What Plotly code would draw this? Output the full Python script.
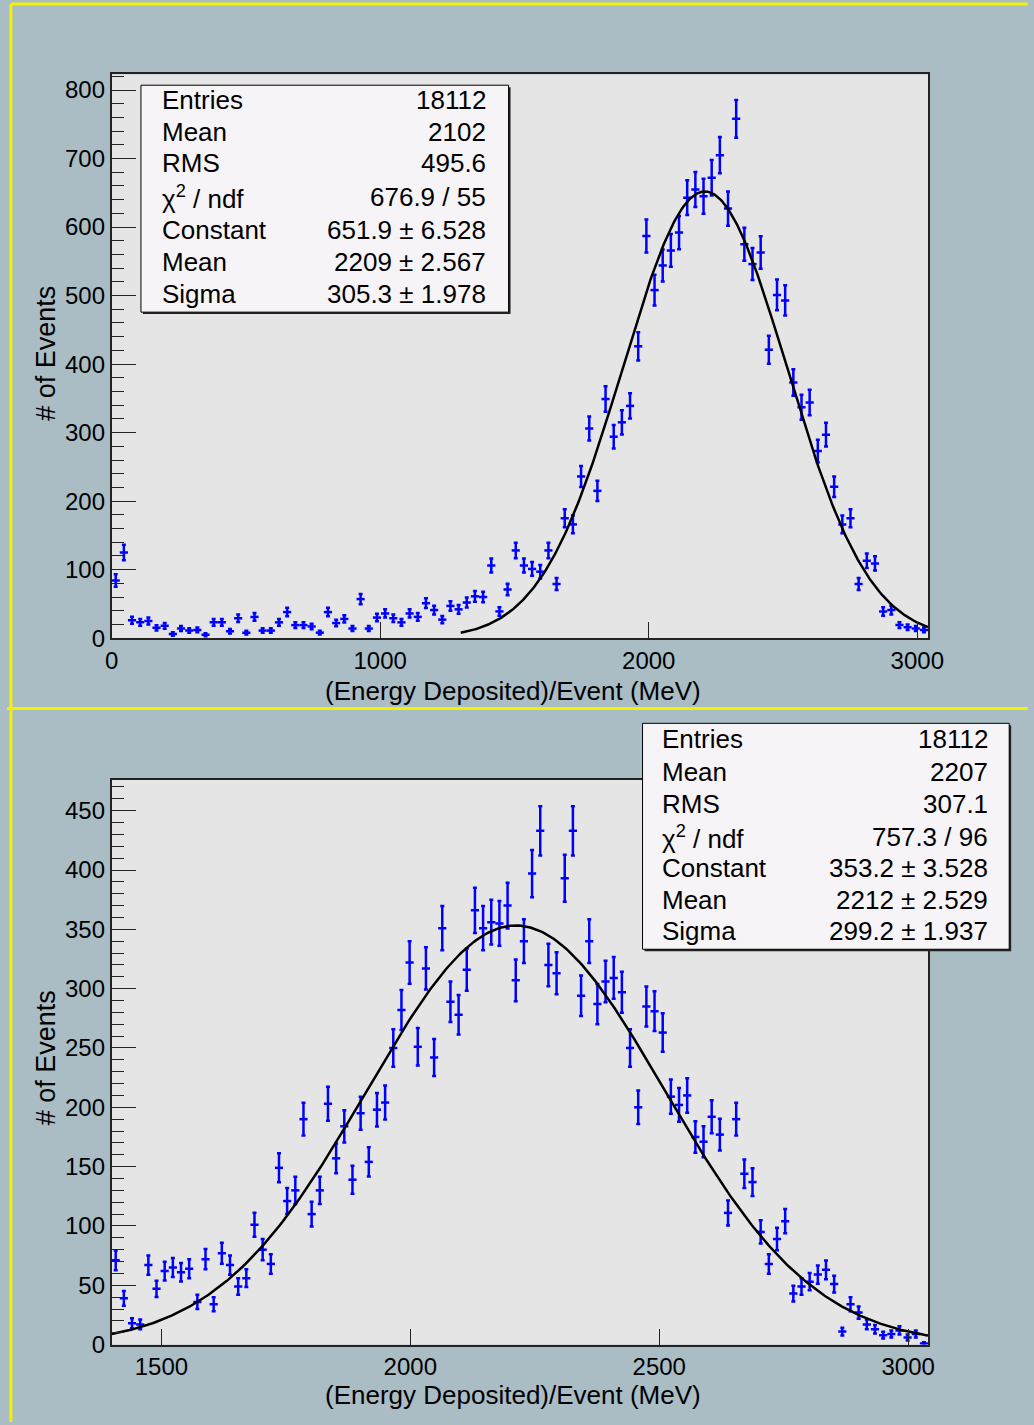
import numpy as np
import plotly.graph_objects as go

W, H = 1034, 1425
FONT = "Liberation Sans, Arial, Helvetica, sans-serif"

# ---- histogram contents (100 bins each) ----
top_range = (0.0, 3040.0)
top_counts = [84, 125, 26, 23, 25, 15, 18, 6, 14, 11,
              12, 5, 23, 23, 10, 29, 8, 31, 11, 11,
              23, 38, 19, 19, 17, 8, 38, 22, 28, 14,
              57, 14, 30, 36, 29, 23, 36, 31, 51, 41,
              27, 47, 42, 52, 61, 60, 106, 39, 71, 128,
              106, 101, 97, 128, 79, 175, 166, 236, 306, 215,
              349, 294, 315, 339, 426, 587, 508, 544, 566, 592,
              643, 655, 645, 672, 705, 627, 758, 575, 546, 563,
              421, 501, 493, 373, 337, 344, 273, 297, 221, 166,
              175, 79, 113, 109, 39, 41, 19, 16, 14, 12]

bot_range = (1400.0, 3040.0)
bot_counts = [71, 39, 18, 17, 67, 47, 62, 65, 61, 64,
              36, 72, 34, 77, 67, 49, 56, 101, 80, 68,
              149, 121, 130, 190, 110, 130, 203, 157, 184, 139,
              195, 154, 198, 204, 250, 282, 322, 251, 317, 242,
              351, 289, 278, 316, 366, 351, 356, 355, 370, 307,
              340, 397, 433, 320, 313, 393, 433, 294, 340, 287,
              306, 309, 297, 250, 200, 285, 281, 263, 209, 202,
              210, 175, 171, 192, 177, 111, 190, 144, 137, 95,
              68, 89, 104, 43, 49, 53, 59, 63, 51, 11,
              34, 27, 17, 13, 8, 9, 12, 6, 9, 1]

# ---- gaussian fit results ----
top_fit = dict(const=651.9, mean=2209.0, sigma=305.3, lo=1300.0, hi=3040.0)
bot_fit = dict(const=353.2, mean=2212.0, sigma=299.2, lo=1400.0, hi=3040.0)

# ---- statistics box text ----
top_stats = [("Entries", "18112"), ("Mean", "2102"), ("RMS", "495.6"),
             ("\u03c7<sup>2</sup> / ndf", "676.9 / 55"),
             ("Constant", "651.9 \u00b1 6.528"), ("Mean", "2209 \u00b1 2.567"),
             ("Sigma", "305.3 \u00b1 1.978")]
bot_stats = [("Entries", "18112"), ("Mean", "2207"), ("RMS", "307.1"),
             ("\u03c7<sup>2</sup> / ndf", "757.3 / 96"),
             ("Constant", "353.2 \u00b1 3.528"), ("Mean", "2212 \u00b1 2.529"),
             ("Sigma", "299.2 \u00b1 1.937")]

top_xticks = [0, 1000, 2000, 3000]
bot_xticks = [1500, 2000, 2500, 3000]

x_title = "(Energy Deposited)/Event (MeV)"
y_title = "# of Events"


def px(x):
    return x / W


def py(y):
    return 1 - y / H


def hist_trace(counts, rng, xa, ya):
    counts = np.asarray(counts, dtype=float)
    n = len(counts)
    width = (rng[1] - rng[0]) / n
    centers = rng[0] + (np.arange(n) + 0.5) * width
    return go.Scatter(
        x=centers, y=counts, mode="markers", xaxis=xa, yaxis=ya,
        marker=dict(size=2, color="#0000ff"),
        error_x=dict(type="constant", value=width / 2, thickness=2.5,
                     width=0, color="#0000ff"),
        error_y=dict(type="data", array=np.sqrt(counts), thickness=2.5,
                     width=2, color="#0000ff"),
        showlegend=False, hoverinfo="skip",
    )


def fit_trace(p, xa, ya):
    xs = np.linspace(p["lo"], p["hi"], 400)
    ys = p["const"] * np.exp(-0.5 * ((xs - p["mean"]) / p["sigma"]) ** 2)
    return go.Scatter(x=xs, y=ys, mode="lines", xaxis=xa, yaxis=ya,
                      line=dict(color="black", width=2.5),
                      showlegend=False, hoverinfo="skip")


fig = go.Figure()
fig.add_trace(hist_trace(top_counts, top_range, "x", "y"))
fig.add_trace(fit_trace(top_fit, "x", "y"))
fig.add_trace(hist_trace(bot_counts, bot_range, "x2", "y2"))
fig.add_trace(fit_trace(bot_fit, "x2", "y2"))

# frame geometry in pixels
fx0, fx1 = 107, 942
top_fy0, top_fy1 = 75, 644
bot_fy0, bot_fy1 = 787, 1357

axis_common = dict(showline=True, mirror=True, linecolor="#222222", linewidth=1.5,
                   showgrid=False, zeroline=False, ticks="inside",
                   tickcolor="#222222", tickwidth=1,
                   tickfont=dict(family=FONT, size=24, color="black"))

fig.update_layout(
    width=W, height=H,
    autosize=False,
    margin=dict(l=0, r=0, t=0, b=0),
    paper_bgcolor="#aabcc4",
    plot_bgcolor="#e5e5e5",
    xaxis=dict(domain=[px(fx0), px(fx1)], range=list(top_range), anchor="y",
               tickvals=top_xticks, ticklen=16, **axis_common),
    yaxis=dict(domain=[py(top_fy1), py(top_fy0)], range=[0, 823], anchor="x",
               tick0=0, dtick=100, ticklen=25,
               minor=dict(tick0=0, dtick=20, ticks="inside", ticklen=13,
                          tickcolor="#222222", tickwidth=1, showgrid=False),
               **axis_common),
    xaxis2=dict(domain=[px(fx0), px(fx1)], range=list(bot_range), anchor="y2",
                tickvals=bot_xticks, ticklen=16, **axis_common),
    yaxis2=dict(domain=[py(bot_fy1), py(bot_fy0)], range=[0, 476], anchor="x2",
                tick0=0, dtick=50, ticklen=25,
                minor=dict(tick0=0, dtick=10, ticks="inside", ticklen=13,
                           tickcolor="#222222", tickwidth=1, showgrid=False),
                **axis_common),
)

shapes = []
annotations = []

# pad borders
yellow = "#f2f200"
for (x0, y0, x1, y1) in [(4, 4, W + 10, 4), (4, 4, 4, H + 10),
                         (0, 715, W + 10, 715)]:
    shapes.append(dict(type="line", xref="paper", yref="paper",
                       x0=px(x0), y0=py(y0), x1=px(x1), y1=py(y1),
                       line=dict(color=yellow, width=3)))


def stats_box(x0, y0, x1, y1, rows, lab_x, val_x, row_y):
    shapes.append(dict(type="rect", xref="paper", yref="paper", layer="above",
                       x0=px(x0 + 2), y0=py(y1 + 2), x1=px(x1 + 2), y1=py(y0 + 2),
                       fillcolor="#222222", line=dict(width=0)))
    shapes.append(dict(type="rect", xref="paper", yref="paper", layer="above",
                       x0=px(x0), y0=py(y1), x1=px(x1), y1=py(y0),
                       fillcolor="#f7f4f7", line=dict(color="black", width=1)))
    for (lab, val), yy in zip(rows, row_y):
        annotations.append(dict(xref="paper", yref="paper", x=px(lab_x), y=py(yy),
                                xanchor="left", yanchor="middle", showarrow=False,
                                text=lab, font=dict(family=FONT, size=26, color="black")))
        annotations.append(dict(xref="paper", yref="paper", x=px(val_x), y=py(yy),
                                xanchor="right", yanchor="middle", showarrow=False,
                                text=val, font=dict(family=FONT, size=26, color="black")))


stats_box(137, 86, 513, 315, top_stats, 156, 492, [101, 133, 165, 199, 232, 264, 297])
stats_box(650, 730, 1025, 958, bot_stats, 668, 1005, [746, 779, 811, 845, 876, 908, 940])

# axis titles
for yy in (697, 1408):
    annotations.append(dict(xref="paper", yref="paper", x=px(517), y=py(yy),
                            xanchor="center", yanchor="middle", showarrow=False,
                            text=x_title, font=dict(family=FONT, size=26, color="black")))
for yy in (357, 1068):
    annotations.append(dict(xref="paper", yref="paper", x=px(40), y=py(yy),
                            xanchor="center", yanchor="middle", showarrow=False,
                            textangle=-90,
                            text=y_title, font=dict(family=FONT, size=27, color="black")))

fig.update_layout(shapes=shapes, annotations=annotations)

fig.write_html("out.html")
